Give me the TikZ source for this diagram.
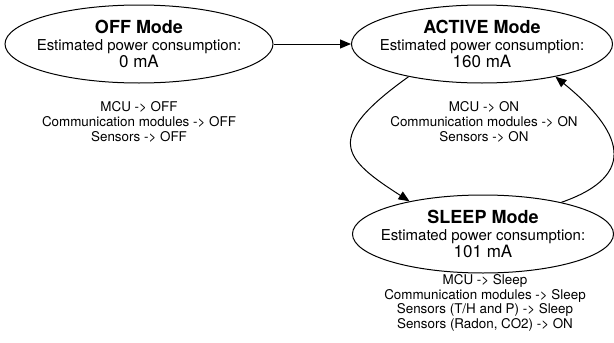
\documentclass[tikz,border=0pt]{standalone}
\usepackage{fontspec}
\setmainfont{TeX Gyre Heros}
\usetikzlibrary{shapes.geometric,arrows.meta}

\begin{document}
\begin{tikzpicture}[x=1pt,y=-1pt]
\tikzset{
  modebox/.style={ellipse, draw, line width=1pt, minimum height=78pt,
    inner xsep=-14pt, inner ysep=0pt, align=center,
    font=\fontsize{15}{17}\selectfont},
  notebox/.style={align=center, inner sep=0pt,
    font=\fontsize{13.4}{14.6}\selectfont},
  arr/.style={-{Triangle[length=11pt,width=9pt]}, line width=1pt},
}
\newcommand\modetitle[1]{{\fontsize{18}{19}\selectfont\bfseries #1}}
\newcommand\modecurrent[1]{{\fontsize{17}{18}\selectfont #1}}
\useasboundingbox (0,0) rectangle (614,343);

% power modes
\node[modebox, minimum width=268pt] (off) at (139,44)
  {\modetitle{OFF Mode}\\Estimated power consumption:\\\modecurrent{0 mA}};
\node[modebox, minimum width=261pt] (act) at (482,44)
  {\modetitle{ACTIVE Mode}\\Estimated power consumption:\\\modecurrent{160 mA}};
\node[modebox, minimum width=261pt] (sleep) at (483,234)
  {\modetitle{SLEEP Mode}\\Estimated power consumption:\\\modecurrent{101 mA}};

% component states
\node[notebox] (offnote) at (139,122)
  {MCU -> OFF\\Communication modules -> OFF\\Sensors -> OFF};
\node[notebox] (actnote) at (484,122)
  {MCU -> ON\\Communication modules -> ON\\Sensors -> ON};
\node[notebox] (sleepnote) at (485,303)
  {MCU -> Sleep\\Communication modules -> Sleep\\Sensors (T/H and P) -> Sleep\\Sensors (Radon, CO2) -> ON};

% transitions
\draw[arr] (off) -- (act);
\draw[arr] (act.204) .. controls (323,138) and (342,158) .. (sleep.156);
\draw[arr] (sleep.22) .. controls (640,175) and (622,131) .. (act.336);
\end{tikzpicture}
\end{document}
